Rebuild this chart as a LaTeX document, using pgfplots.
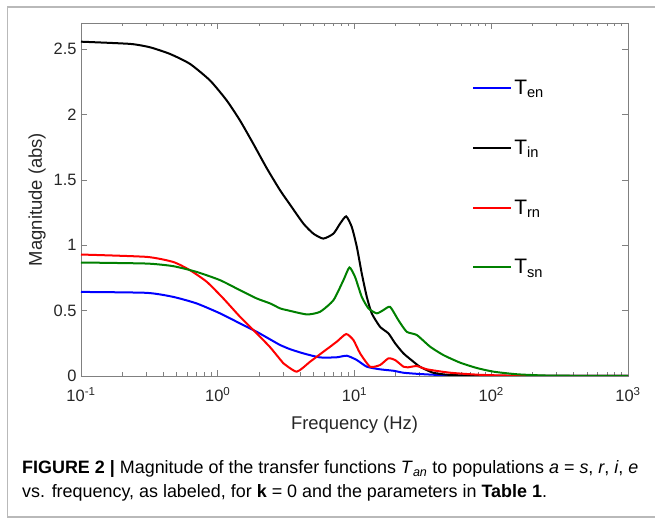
\documentclass[border=0pt]{standalone}
\usepackage{fontspec}
\setmainfont{Liberation Sans}
\usepackage{pgfplots}
\pgfplotsset{compat=1.18}
\definecolor{mgreen}{rgb}{0,0.5,0}
\definecolor{axgray}{gray}{0.5}
\begin{document}
\begin{tikzpicture}[x=1bp,y=1bp]
\useasboundingbox (0,0) rectangle (655,521);
\draw[gray!55, line width=1.2bp] (670,514) -- (7.5,514) -- (7.5,4) -- (670,4);
\begin{axis}[
  at={(81bp,145bp)}, anchor=south west,
  scale only axis, width=547bp, height=353bp,
  xmode=log, xmin=0.1, xmax=1000, ymin=0, ymax=2.7,
  xtick={0.1,1,10,100,1000},
  xticklabels={10\textsuperscript{-1},10\textsuperscript{0},10\textsuperscript{1},10\textsuperscript{2},10\textsuperscript{3}},
  ytick={0,0.5,1,1.5,2,2.5},
  /pgf/number format/assume math mode=true,
  tick align=inside,
  major tick length=6bp, minor tick length=3.5bp,
  axis line style={axgray, line width=0.8bp},
  every tick/.style={axgray, line width=0.6bp},
  tick label style={font=\fontsize{16.5}{18}\selectfont, text=black!85},
  xticklabel style={yshift=-8bp},
  yticklabel style={xshift=-1bp},
  label style={font=\fontsize{18.5}{20}\selectfont, text=black!85},
  xlabel={Frequency (Hz)},
  ylabel={Magnitude (abs)},
  xlabel style={yshift=-7bp},
  ylabel style={yshift=1bp},
  legend style={draw=none, fill=none, at={(0.715,0.845)}, anchor=north west,
     font=\fontsize{21}{23}\selectfont, row sep=40bp, inner sep=0pt},
  legend cell align=left,
  legend image code/.code={\draw[#1] (0bp,0bp) -- (38bp,0bp);},
  every axis plot/.append style={line width=2bp, smooth, tension=0.35},
]
\addplot[blue] coordinates {
(0.1,0.643) (0.302,0.636) (0.473,0.605) (0.701,0.555) (1.04,0.479) (1.455,0.402)
(1.928,0.338) (2.415,0.28) (2.858,0.237) (3.381,0.205) (4.227,0.173) (5.598,0.142)
(7.413,0.143) (8.79,0.155) (10.40,0.122) (12.30,0.071) (15.38,0.051) (19.28,0.04)
(22.80,0.025) (30.2,0.015) (50,0.004) (100,0.001) (1000,0)
};
\addlegendentry{T\textsubscript{en}}
\addplot[black] coordinates {
(0.1,2.557) (0.229,2.54) (0.32,2.514) (0.448,2.463) (0.627,2.387) (0.879,2.26)
(1.164,2.107) (1.455,1.954) (1.82,1.776) (2.28,1.59) (2.858,1.42) (3.381,1.31)
(4.227,1.166) (5.0,1.089) (5.916,1.051) (7.015,1.089) (7.852,1.166) (8.69,1.221)
(9.55,1.14) (10.40,0.987) (11.30,0.784) (12.30,0.605) (13.37,0.479) (15.38,0.376)
(17.70,0.326) (19.82,0.25) (22.80,0.173) (26.98,0.109) (30.2,0.07) (37.6,0.025)
(50,0.008) (100,0.001) (1000,0)
};
\addlegendentry{T\textsubscript{in}}
\addplot[red] coordinates {
(0.1,0.929) (0.302,0.911) (0.473,0.872) (0.627,0.809) (0.832,0.72) (1.099,0.593)
(1.455,0.453) (1.928,0.326) (2.415,0.22) (2.858,0.127) (3.02,0.097) (3.784,0.033)
(4.732,0.109) (5.916,0.185) (7.413,0.262) (8.69,0.321) (9.817,0.275) (10.99,0.173)
(13.0,0.071) (15.38,0.084) (17.70,0.135) (19.82,0.122) (22.80,0.071) (24.5,0.066)
(28.58,0.076) (33.88,0.051) (50.1,0.025) (87.1,0.008) (200,0.001) (1000,0)
};
\addlegendentry{T\textsubscript{rn}}
\addplot[mgreen] coordinates {
(0.1,0.868) (0.302,0.86) (0.473,0.84) (0.701,0.796) (1.04,0.733) (1.455,0.656)
(1.928,0.593) (2.415,0.555) (2.858,0.517) (3.199,0.504) (4.477,0.471) (5.598,0.491)
(7.015,0.58) (8.299,0.733) (9.18,0.83) (10.09,0.758) (11.30,0.605) (12.65,0.517)
(14.55,0.479) (16.26,0.504) (18.20,0.529) (20.94,0.427) (24.10,0.338) (28.58,0.313)
(35.73,0.224) (44.67,0.16) (59.2,0.102) (78.5,0.061) (104,0.033) (155,0.013)
(269,0.003) (1000,0)
};
\addlegendentry{T\textsubscript{sn}}
\end{axis}
\node[anchor=base west, font=\fontsize{18}{20}\selectfont, inner sep=0pt] at (22,47)
  {\textbf{FIGURE 2 |} Magnitude of the transfer functions \textit{T}\textsubscript{\textit{an}} to populations \textit{a} = \textit{s}, \textit{r}, \textit{i}, \textit{e}};
\node[anchor=base west, font=\fontsize{18}{20}\selectfont, inner sep=0pt] at (22,23)
  {vs. frequency, as labeled, for \textbf{k} = 0 and the parameters in \textbf{Table 1}.};
\end{tikzpicture}
\end{document}
